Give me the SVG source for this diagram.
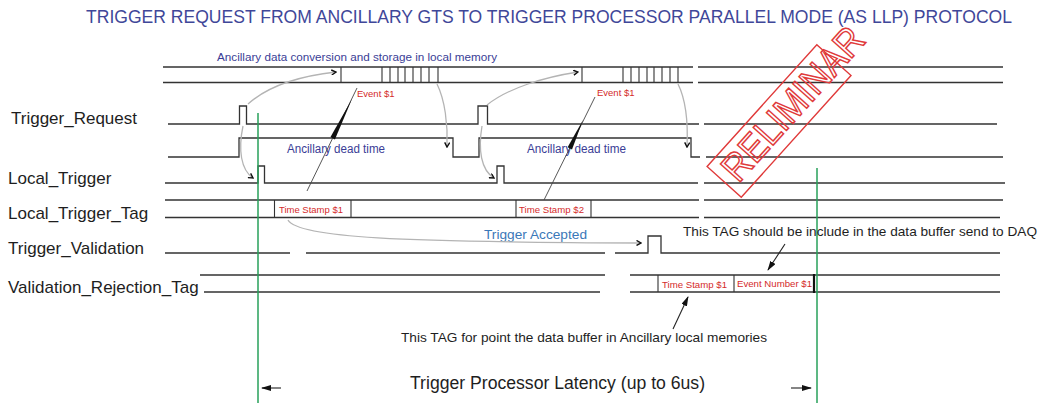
<svg xmlns="http://www.w3.org/2000/svg" width="1040" height="403" viewBox="0 0 1040 403">
<defs>
<style>
.sig{fill:none;stroke:#333;stroke-width:1.3}
.box{fill:none;stroke:#333;stroke-width:1.1}
.lbl{font-family:"Liberation Sans",Arial,sans-serif;font-size:17px;fill:#1e1e1e}
.red{font-family:"Liberation Sans",Arial,sans-serif;font-size:9.5px;fill:#d42a2a}
.blue{font-family:"Liberation Sans",Arial,sans-serif;fill:#3a3d96}
.note{font-family:"Liberation Sans",Arial,sans-serif;fill:#1e1e1e}
.grey{fill:none;stroke:#b4b4b4;stroke-width:1.3}
.green{stroke:#27a05a;stroke-width:1.5}
.ann{stroke:#222;stroke-width:1.1;fill:none}
</style>
<marker id="chev" viewBox="0 0 6 6" refX="5" refY="3" markerWidth="6" markerHeight="6" markerUnits="userSpaceOnUse" orient="auto">
<path d="M0.5,0.5 L5,3 L0.5,5.5" fill="none" stroke="#111" stroke-width="1.4"/>
</marker>
<marker id="tri" viewBox="0 0 10 6" refX="9" refY="3" markerWidth="10" markerHeight="6" markerUnits="userSpaceOnUse" orient="auto">
<path d="M0,0 L10,3 L0,6 Z" fill="#111"/>
</marker>
</defs>
<rect width="1040" height="403" fill="#fff"/>

<text id="title" x="86" y="22.5" font-family="'Liberation Sans',Arial,sans-serif" font-size="17.5" fill="#3f4799" textLength="926" lengthAdjust="spacingAndGlyphs">TRIGGER REQUEST FROM ANCILLARY GTS TO TRIGGER PROCESSOR PARALLEL MODE (AS LLP) PROTOCOL</text>

<g id="data_bus">
<text class="blue" x="217" y="61" font-size="11.5" textLength="280" lengthAdjust="spacingAndGlyphs">Ancillary data conversion and storage in local memory</text>
<path class="sig" d="M163,67 H693 M698,67 H1003 M163,82.5 H693 M698,82.5 H1003"/>
<path class="box" d="M341,67 V83 M382,67 V83 M390,67 V83 M398,67 V83 M405,67 V83 M413,67 V83 M421,67 V83 M429,67 V83 M438,67 V83"/>
<path class="box" d="M582,67 V83 M623,67 V83 M631,67 V83 M639,67 V83 M647,67 V83 M654,67 V83 M662,67 V83 M670,67 V83 M678,67 V83"/>
<text class="red" x="357" y="97" font-size="9">Event $1</text>
<text class="red" x="597" y="96" font-size="9">Event $1</text>
</g>

<g id="trigger_request">
<text class="lbl" x="11" y="123.5">Trigger_Request</text>
<path class="sig" d="M168,124 H239.5 V106 H246.5 V124 H478 V106 H487.5 V124 H699 M704,124 H997"/>
</g>

<g id="dead_time">
<path class="sig" d="M168,157 H239 V138 H453 V157 H479 V138 H691 V157 H700 M706,157 H1003"/>
<text class="blue" x="287" y="153" font-size="12" textLength="98" lengthAdjust="spacingAndGlyphs">Ancillary dead time</text>
<text class="blue" x="527" y="153" font-size="12" textLength="99" lengthAdjust="spacingAndGlyphs">Ancillary dead time</text>
</g>

<g id="local_trigger">
<text class="lbl" x="8" y="184">Local_Trigger</text>
<path class="sig" d="M165,183 H258 V166 H264.5 V183 H497 V166 H504 V183 H698 M704,183 H1005"/>
</g>

<g id="local_trigger_tag">
<text class="lbl" x="8" y="218.5">Local_Trigger_Tag</text>
<path class="sig" d="M165,200 H699 M704,200 H1003 M165,217.5 H699 M704,217.5 H1000"/>
<path class="box" d="M274.5,200 V217.5 M351,200 V217.5 M516,200 V217.5 M591,200 V217.5"/>
<text class="red" x="279" y="213" textLength="64" lengthAdjust="spacingAndGlyphs">Time Stamp $1</text>
<text class="red" x="519" y="213" textLength="65" lengthAdjust="spacingAndGlyphs">Time Stamp $2</text>
</g>

<g id="trigger_validation">
<text class="lbl" x="8" y="253.5">Trigger_Validation</text>
<path class="sig" d="M165,253 H290 M306,253 H605 M615,253 H648 V236 H661 V253 H1000"/>
<text x="484" y="239" font-family="'Liberation Sans',Arial,sans-serif" font-size="13.7" fill="#3b78b8" textLength="103" lengthAdjust="spacingAndGlyphs">Trigger Accepted</text>
</g>

<g id="validation_rejection_tag">
<text class="lbl" x="8" y="293">Validation_Rejection_Tag</text>
<path class="sig" d="M200,275 H605 M630,275 H1000 M204,292 H600 M630,292 H1000"/>
<path class="box" d="M658,275 V292 M734,275 V292"/>
<path d="M814,274 V293" stroke="#111" stroke-width="2.2"/>
<text class="red" x="662" y="288" textLength="65" lengthAdjust="spacingAndGlyphs">Time Stamp $1</text>
<text class="red" x="737" y="287" textLength="75" lengthAdjust="spacingAndGlyphs">Event Number $1</text>
</g>

<g id="latency">
<line class="green" x1="258" y1="113" x2="258" y2="403"/>
<line class="green" x1="817" y1="168" x2="817" y2="403"/>
<text class="note" x="410" y="389" font-size="17.5" textLength="295" lengthAdjust="spacingAndGlyphs">Trigger Processor Latency (up to 6us)</text>
</g>

<g id="annotations">
<text class="note" x="683" y="236" font-size="13.6" textLength="354" lengthAdjust="spacingAndGlyphs">This TAG should be include in the data buffer send to DAQ</text>
<text class="note" x="401" y="342" font-size="13" textLength="366" lengthAdjust="spacingAndGlyphs">This TAG for point the data buffer in Ancillary local memories</text>
</g>

<g id="connectors">
<path class="grey" d="M248,104 C268,86 300,76 336,72" marker-end="url(#chev)"/>
<path class="grey" d="M243,126 C238,150 241,170 253,178" marker-end="url(#chev)"/>
<path class="grey" d="M437,84 C445,100 448,125 447,147" marker-end="url(#chev)"/>
<path class="grey" d="M487,105 C508,88 545,77 578,72" marker-end="url(#chev)"/>
<path class="grey" d="M482,126 C478,150 481,170 494,178" marker-end="url(#chev)"/>
<path class="grey" d="M678,84 C686,100 688,125 687,147" marker-end="url(#chev)"/>
<path class="grey" d="M288,220 C298,238 400,242 641,243" marker-end="url(#chev)"/>
<path d="M357,88 L307,191" stroke="#444" stroke-width="0.9"/>
<polygon points="352,99 334.9,139.5 330.5,137" fill="#111"/>
<path d="M595,97 L544,200" stroke="#444" stroke-width="0.9"/>
<polygon points="583,120 572,149.5 567.6,147.3" fill="#111"/>
<path class="ann" d="M785,244 L768,270" marker-end="url(#tri)"/>
<path class="ann" d="M673,329 L688,297" marker-end="url(#tri)"/>
<path class="ann" d="M281,388 L262,388" marker-end="url(#tri)"/>
<path class="ann" d="M791,388 L811,388" marker-end="url(#tri)"/>
</g>

<g id="stamp" transform="translate(738,189) rotate(-48)">
<rect x="-4" y="-38" width="164" height="46" fill="none" stroke="#e03a3a" stroke-width="1.4"/>
<text x="4" y="-3" font-family="'Liberation Sans',Arial,sans-serif" font-size="39" fill="none" stroke="#e03a3a" stroke-width="1.5" textLength="192" lengthAdjust="spacingAndGlyphs">RELIMINAR</text>
</g>
</svg>
